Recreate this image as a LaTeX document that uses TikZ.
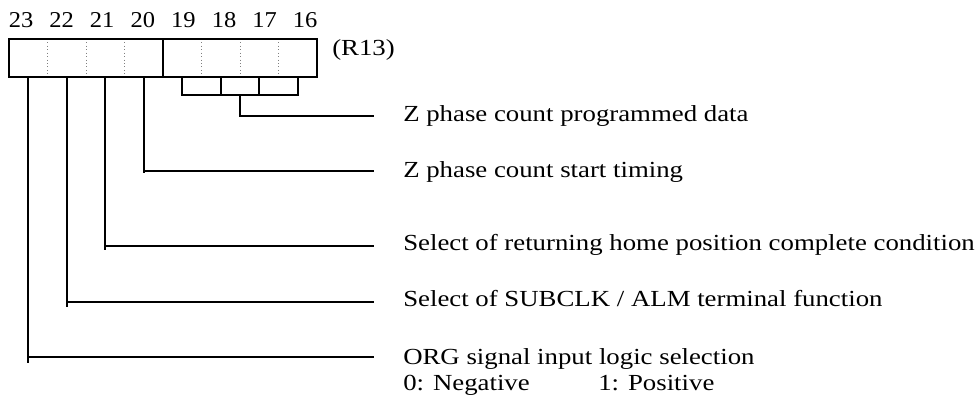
\documentclass[tikz,border=0pt]{standalone}
\usepackage{fontspec}
\setmainfont{Liberation Serif}
\usepackage{graphicx}
\usepackage{tikz}
\usetikzlibrary{positioning}
\newcommand{\wtxt}[2][1.165]{\scalebox{#1}[1]{#2}}
\tikzset{
    cell/.style={rectangle, inner sep=0pt, minimum width=28.875pt, minimum height=28.5pt},
    bitno/.style={inner sep=0pt, anchor=base, font=\fontsize{17}{20}\selectfont},
    lbl/.style={inner sep=0pt, anchor=base west, font=\fontsize{17.25}{20}\selectfont},
    frame/.style={draw, line width=1.5pt},
    sep/.style={draw=gray, dotted, line width=0.6pt},
    conn/.style={-, line width=1.5pt},
}
\begin{document}
\begin{tikzpicture}[x=0.75pt, y=-0.75pt]
        \useasboundingbox (0,0) rectangle (977,408);

        % bit cells of the register
        \node [cell] (c23) at (28.25,58) {};
        \node [cell] (c22) at (66.75,58) {};
        \node [cell] (c21) at (105.25,58) {};
        \node [cell] (c20) at (143.75,58) {};
        \node [cell] (c19) at (182.25,58) {};
        \node [cell] (c18) at (220.75,58) {};
        \node [cell] (c17) at (259.25,58) {};
        \node [cell] (c16) at (297.75,58) {};

        \node [bitno] (n23) at (21,27) {\wtxt[1.08]{23}};
        \node [bitno] (n22) at (61.6,27) {\wtxt[1.08]{22}};
        \node [bitno] (n21) at (102.2,27) {\wtxt[1.08]{21}};
        \node [bitno] (n20) at (142.8,27) {\wtxt[1.08]{20}};
        \node [bitno] (n19) at (183.4,27) {\wtxt[1.08]{19}};
        \node [bitno] (n18) at (224,27) {\wtxt[1.08]{18}};
        \node [bitno] (n17) at (264.6,27) {\wtxt[1.08]{17}};
        \node [bitno] (n16) at (305.2,27) {\wtxt[1.08]{16}};

        \node [lbl] (reg) at (332,55) {\wtxt{(R13)}};

        \draw [sep] (c23.north east) -- (c23.south east);
        \draw [sep] (c22.north east) -- (c22.south east);
        \draw [sep] (c21.north east) -- (c21.south east);
        \draw [sep] (c19.north east) -- (c19.south east);
        \draw [sep] (c18.north east) -- (c18.south east);
        \draw [sep] (c17.north east) -- (c17.south east);
        \draw [frame] (c23.north west) rectangle (c20.south east);
        \draw [frame] (c19.north west) rectangle (c16.south east);

        % descriptions
        \node [lbl] (lab1) at (403,121) {\wtxt{Z phase count programmed data}};
        \node [lbl] (lab2) at (403,177) {\wtxt{Z phase count start timing}};
        \node [lbl] (lab3) at (403,250) {\wtxt{Select of returning home position complete condition}};
        \node [lbl] (lab4) at (403,306) {\wtxt{Select of SUBCLK / ALM terminal function}};
        \node [lbl] (lab5) at (403,364) {\wtxt{ORG signal input logic selection}};
        \node [lbl] (neg) at (403,390) {\wtxt{0: Negative}};
        \node [lbl] (pos) at (598,390) {\wtxt{1: Positive}};

        \coordinate (brk) at (0,95);
        \coordinate (e1) at (374,115.5);
        \coordinate (e2) at (374,171);
        \coordinate (e3) at (374,245.5);
        \coordinate (e4) at (374,301.5);
        \coordinate (e5) at (374,357);

        \draw [conn] (c19.south) |- (c16.south |- brk) -- (c16.south);
        \draw [conn] (c18.south) -- (c18.south |- brk);
        \draw [conn] (c17.south) -- (c17.south |- brk);
        \draw [conn] (c18.south east |- brk) |- (e1);

        \draw [conn] (c20.south) |- (e2) (c20.south |- e2) -- ++(0,2);
        \draw [conn] (c21.south) |- (e3) (c21.south |- e3) -- ++(0,4);
        \draw [conn] (c22.south) |- (e4) (c22.south |- e4) -- ++(0,5);
        \draw [conn] (c23.south) |- (e5) (c23.south |- e5) -- ++(0,6);
    \end{tikzpicture}
\end{document}
